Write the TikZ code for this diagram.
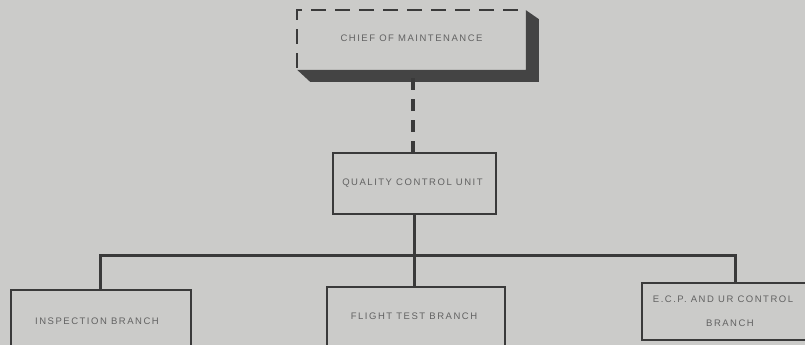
\documentclass[tikz,border=0pt]{standalone}
\usepackage{fontspec}
\setmainfont{Liberation Sans}[LetterSpace=16]
\definecolor{paper}{RGB}{203,203,201}
\definecolor{ink}{RGB}{58,58,58}
\definecolor{txt}{RGB}{98,98,98}
\definecolor{shadowgray}{RGB}{68,68,68}
\tikzset{
  box/.style={draw=ink, line width=1.7pt, fill=paper, rectangle, inner sep=0pt,
    text=txt, font=\fontsize{9.5}{11}\selectfont, align=center},
  conn/.style={draw=ink, line width=3pt},
  dconn/.style={draw=ink, line width=3.6pt, dash pattern=on 12pt off 9pt},
}
\begin{document}
\begin{tikzpicture}[x=1pt,y=-1pt]
\fill[paper] (0,0) rectangle (805,345);
\useasboundingbox (0,0) rectangle (805,345);
% chief of maintenance
\node[box, draw=none, minimum width=227pt, minimum height=58pt] (chief) at (411.5,40) {\raisebox{3pt}{CHIEF OF MAINTENANCE}};
\fill[shadowgray] (chief.south west) -- (chief.south east) -- (chief.north east) -- ([xshift=13pt,yshift=-9pt]chief.north east) -- ([xshift=13pt,yshift=-12pt]chief.south east) -- ([xshift=13pt,yshift=-12pt]chief.south west) -- cycle;
\draw[draw=ink, line width=2.2pt, dash pattern=on 15pt off 9pt] ([yshift=2pt]chief.south west) -- (chief.north west) -- ([xshift=-3pt]chief.north east);
\coordinate (chiefbot) at (413,78);
% quality control unit
\node[box, minimum width=163pt, minimum height=61pt] (quality) at (414.5,183.5) {\raisebox{1.5pt}{QUALITY CONTROL UNIT}\hspace*{4pt}};
% branches
\node[box, minimum width=180pt, minimum height=64pt] (inspection) at (101,322) {\raisebox{2pt}{INSPECTION BRANCH}\hspace*{8pt}};
\node[box, minimum width=178pt, minimum height=64pt] (flight) at (416,319) {\raisebox{5pt}{FLIGHT TEST BRANCH}\hspace*{4pt}};
\node[box, minimum width=176pt, minimum height=57pt] (ecp) at (730,311.5) {\raisebox{0pt}{E.C.P. AND UR CONTROL}\hspace*{14pt}\\[13pt]BRANCH};
% connectors
\coordinate (busL) at (100,255);
\coordinate (busR) at (735,255);
\draw[dconn] (chiefbot) -- (quality.north -| chiefbot);
\draw[conn] (quality.south) -- (flight.north -| quality.south);
\draw[conn] (inspection.north -| busL) -- (busL) -- (busR) -- (ecp.north -| busR);
\end{tikzpicture}
\end{document}
